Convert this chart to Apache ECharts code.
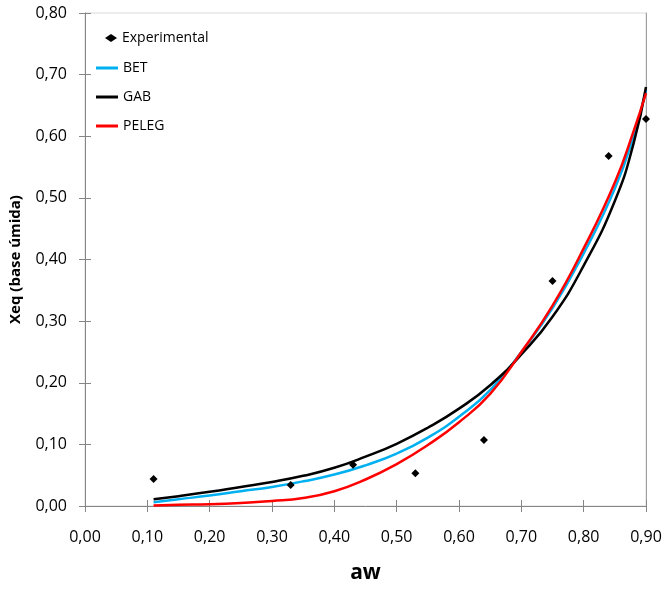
<!DOCTYPE html>
<html>
<head>
<meta charset="UTF-8">
<title>Isotermas</title>
<script src="https://cdn.jsdelivr.net/npm/echarts@6/dist/echarts.min.js"></script>
<style>
  html, body { margin: 0; padding: 0; background: #fff; }
</style>
</head>
<body>
<div id="main" style="width: 667px; height: 589px;"></div>
<script type="text/javascript">
// pontos experimentais
var expX = [0.11, 0.33, 0.43, 0.53, 0.64, 0.75, 0.84, 0.90];
var expY = [0.044, 0.034, 0.067, 0.053, 0.107, 0.365, 0.568, 0.628];

// curvas ajustadas
var fitX  = [0.11, 0.15, 0.20, 0.25, 0.30, 0.35, 0.40, 0.45, 0.50, 0.55, 0.60, 0.65, 0.70, 0.75, 0.80, 0.85, 0.88, 0.90];
var bet   = [0.006, 0.011, 0.017, 0.024, 0.031, 0.040, 0.051, 0.066, 0.085, 0.111, 0.145, 0.188, 0.250, 0.321, 0.410, 0.515, 0.600, 0.675];
var gab   = [0.011, 0.016, 0.023, 0.031, 0.039, 0.049, 0.062, 0.080, 0.101, 0.127, 0.158, 0.196, 0.246, 0.307, 0.390, 0.495, 0.588, 0.680];
var peleg = [0.001, 0.002, 0.003, 0.005, 0.008, 0.013, 0.024, 0.043, 0.068, 0.099, 0.136, 0.182, 0.250, 0.325, 0.418, 0.525, 0.608, 0.670];

function pairs(xs, ys) {
    return xs.map(function (x, i) { return [x, ys[i]]; });
}
function fmt(v) {
    return v.toFixed(2).replace('.', ',');
}

var axisGray = '#868686';
var font = '"Open Sans", sans-serif';
var lineIcon = 'rect';

var myChart = echarts.init(document.getElementById('main'));

var option = {
    animation: false,
    grid: {
        left: 85, right: 21, top: 13, bottom: 81,
        show: true, borderColor: '#d9d9d9', borderWidth: 1
    },
    legend: [
        {
            data: [{ name: 'Experimental', icon: 'diamond' }],
            left: 100, top: 26,
            itemWidth: 12, itemHeight: 8,
            textStyle: { fontFamily: font, fontSize: 14, color: '#000' }
        },
        {
            data: [
                { name: 'BET', icon: lineIcon },
                { name: 'GAB', icon: lineIcon },
                { name: 'PELEG', icon: lineIcon }
            ],
            orient: 'vertical',
            left: 91, top: 56,
            itemWidth: 22, itemHeight: 3, itemGap: 15,
            textStyle: { fontFamily: font, fontSize: 14, color: '#000' }
        }
    ],
    xAxis: [
        {
            type: 'value', min: 0, max: 0.9, interval: 0.1,
            name: 'aw', nameLocation: 'middle', nameGap: 57,
            nameTextStyle: { fontFamily: font, fontSize: 21, fontWeight: 'bold', color: '#000' },
            axisLine: { lineStyle: { color: axisGray } },
            axisTick: { length: 6, lineStyle: { color: axisGray } },
            axisLabel: { formatter: fmt, margin: 23, fontFamily: font, fontSize: 16, color: '#000' },
            splitLine: { show: false }
        },
        {
            type: 'value', min: 0, max: 0.9, interval: 0.1, position: 'bottom',
            axisLine: { show: false },
            axisTick: { inside: true, length: 6, lineStyle: { color: axisGray } },
            axisLabel: { show: false },
            splitLine: { show: false }
        }
    ],
    yAxis: [
        {
            type: 'value', min: 0, max: 0.8, interval: 0.1,
            name: 'Xeq (base úmida)', nameLocation: 'middle', nameGap: 62,
            nameTextStyle: { fontFamily: font, fontSize: 15, fontWeight: 'bold', color: '#000' },
            axisLine: { show: true, lineStyle: { color: axisGray } },
            axisTick: { show: true, length: 6, lineStyle: { color: axisGray } },
            axisLabel: { formatter: fmt, margin: 18, fontFamily: font, fontSize: 16, color: '#000' },
            splitLine: { show: false }
        },
        {
            type: 'value', min: 0, max: 0.8, interval: 0.1, position: 'left',
            axisLine: { show: false },
            axisTick: { show: true, inside: true, length: 6, lineStyle: { color: axisGray } },
            axisLabel: { show: false },
            splitLine: { show: false }
        },
        {
            type: 'value', min: 0, max: 0.8, interval: 0.1, position: 'right',
            axisLine: { show: true, lineStyle: { color: '#a0a0a0' } },
            axisTick: { show: false },
            axisLabel: { show: false },
            splitLine: { show: false }
        }
    ],
    series: [
        {
            name: 'BET', type: 'line', smooth: true, symbol: 'none',
            lineStyle: { color: '#00b0f0', width: 2.5 }, itemStyle: { color: '#00b0f0' },
            data: pairs(fitX, bet), z: 2
        },
        {
            name: 'GAB', type: 'line', smooth: true, symbol: 'none',
            lineStyle: { color: '#000000', width: 2.5 }, itemStyle: { color: '#000000' },
            data: pairs(fitX, gab), z: 2
        },
        {
            name: 'PELEG', type: 'line', smooth: true, symbol: 'none',
            lineStyle: { color: '#ff0000', width: 2.5 }, itemStyle: { color: '#ff0000' },
            data: pairs(fitX, peleg), z: 3
        },
        {
            name: 'Experimental', type: 'scatter', symbol: 'diamond', symbolSize: 8,
            itemStyle: { color: '#000000', opacity: 1 },
            data: pairs(expX, expY), z: 4
        }
    ]
};

myChart.setOption(option);
</script>
</body>
</html>
